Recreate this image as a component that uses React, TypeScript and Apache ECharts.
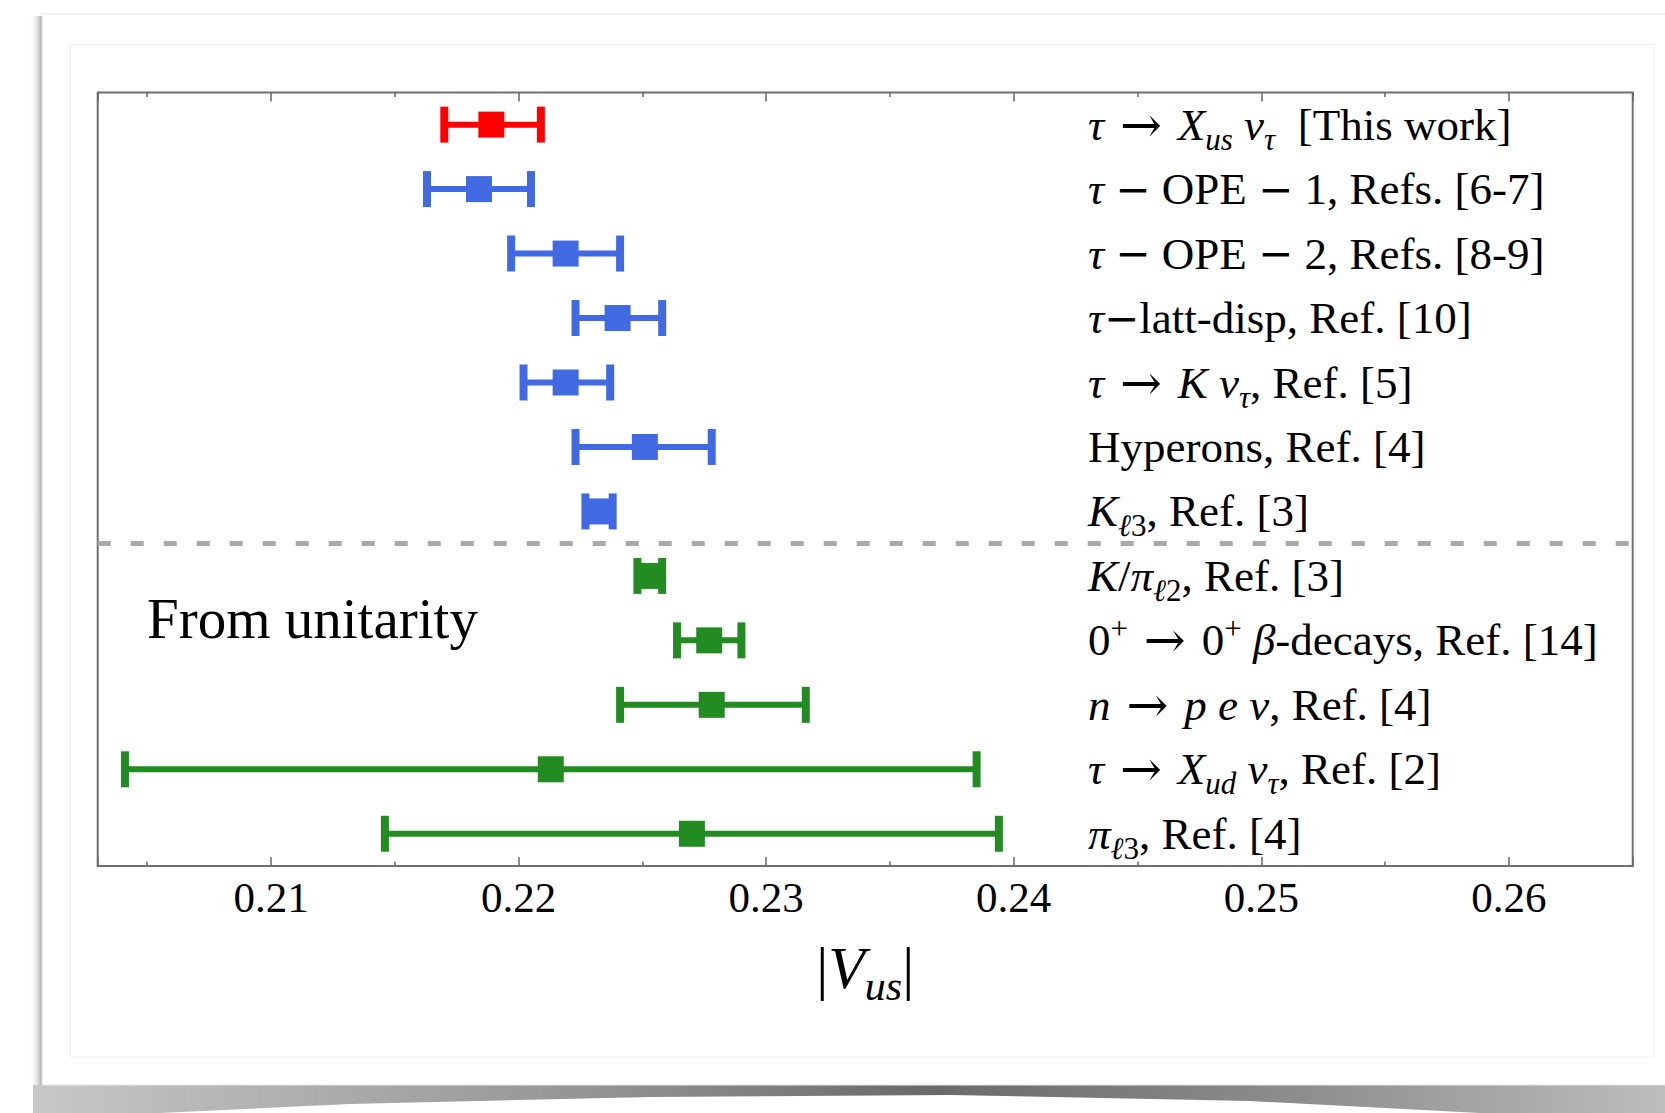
import React, { useEffect, useRef } from 'react';
import * as echarts from 'echarts';

// ---------- data ----------
const rowLabels = [
  'τ → X_us ν_τ [This work]',
  'τ − OPE − 1, Refs. [6-7]',
  'τ − OPE − 2, Refs. [8-9]',
  'τ−latt-disp, Ref. [10]',
  'τ → K ν_τ, Ref. [5]',
  'Hyperons, Ref. [4]',
  'K_ℓ3, Ref. [3]',
  'K/π_ℓ2, Ref. [3]',
  '0⁺ → 0⁺ β-decays, Ref. [14]',
  'n → p e ν, Ref. [4]',
  'τ → X_ud ν_τ, Ref. [2]',
  'π_ℓ3, Ref. [4]',
];

// same labels, written with rich-text styles
// (m = math italic, r = roman, a = operator, t = arrow, s = subscript, sr = roman subscript, p = superscript)
const rowLabelMarkup = [
  '{m|τ}{t| → }{m|X}{s|us}{m| ν}{s|τ}{r|  [This work]}',
  '{m|τ}{r| }{a|−}{r| OPE }{a|−}{r| 1, Refs. [6-7]}',
  '{m|τ}{r| }{a|−}{r| OPE }{a|−}{r| 2, Refs. [8-9]}',
  '{m|τ}{a|−}{r|latt-disp, Ref. [10]}',
  '{m|τ}{t| → }{m|K ν}{s|τ}{r|, Ref. [5]}',
  '{r|Hyperons, Ref. [4]}',
  '{m|K}{s|ℓ}{sr|3}{r|, Ref. [3]}',
  '{m|K}{r|/}{m|π}{s|ℓ}{sr|2}{r|, Ref. [3]}',
  '{r|0}{p|+}{t| → }{r|0}{p|+}{r| }{m|β}{r|-decays, Ref. [14]}',
  '{m|n}{t| → }{m|p e ν}{r|, Ref. [4]}',
  '{m|τ}{t| → }{m|X}{s|ud}{m| ν}{s|τ}{r|, Ref. [2]}',
  '{m|π}{s|ℓ}{sr|3}{r|, Ref. [4]}',
];

const centers = [0.2189, 0.2184, 0.2219, 0.2240, 0.2219, 0.2251, 0.2232, 0.2253, 0.2277, 0.2278, 0.2213, 0.2270];
const lows = [0.2170, 0.2163, 0.2197, 0.2223, 0.2202, 0.2223, 0.2227, 0.2248, 0.2264, 0.2241, 0.2041, 0.2146];
const highs = [0.2209, 0.2205, 0.2241, 0.2258, 0.2237, 0.2278, 0.2238, 0.2258, 0.2290, 0.2316, 0.2385, 0.2394];
const rowGroup = ['work', 'tau', 'tau', 'tau', 'tau', 'tau', 'tau', 'unit', 'unit', 'unit', 'unit', 'unit'];

const groups = [
  { key: 'work', name: 'This work', color: '#ff0000' },
  { key: 'tau', name: 'Other determinations', color: '#4169e1' },
  { key: 'unit', name: 'From unitarity', color: '#228b22' },
];

const xTickValues = [0.21, 0.22, 0.23, 0.24, 0.25, 0.26];
const xMin = 0.203;
const xMax = 0.265;
const groupBoundary = 7.5;
const annotation = 'From unitarity';
const axisTitleMarkup = '{r||}{m|V}{s|us}{r||}';

const FONT = '"Liberation Serif", "Times New Roman", serif';
const OPFONT = '"DejaVu Serif", "Liberation Serif", serif';

export default function App() {
  const ref = useRef<HTMLDivElement>(null);

  useEffect(() => {
    if (!ref.current) return;
    const chart = echarts.init(ref.current, null, { renderer: 'svg' });

    const labelSize = 45;
    const rich = {
      r: { fontFamily: FONT, fontSize: labelSize, color: '#000', lineHeight: 50, verticalAlign: 'middle' },
      m: { fontFamily: FONT, fontSize: labelSize, fontStyle: 'italic', color: '#000', lineHeight: 50, verticalAlign: 'middle' },
      a: { fontFamily: OPFONT, fontSize: 42, color: '#000', lineHeight: 50, verticalAlign: 'middle' },
      t: { fontFamily: OPFONT, fontSize: 50, color: '#000', lineHeight: 50, verticalAlign: 'middle' },
      s: { fontFamily: FONT, fontSize: 31, fontStyle: 'italic', color: '#000', lineHeight: 25, height: 21, verticalAlign: 'bottom' },
      sr: { fontFamily: FONT, fontSize: 31, color: '#000', lineHeight: 25, height: 21, verticalAlign: 'bottom' },
      p: { fontFamily: FONT, fontSize: 31, color: '#000', lineHeight: 21, height: 26, verticalAlign: 'top' },
    };

    const renderItem = (params: any, api: any) => {
      const row = api.value(1);
      const c = api.coord([api.value(0), row]);
      const l = api.coord([api.value(2), row]);
      const h = api.coord([api.value(3), row]);
      const color = api.visual('color');
      return {
        type: 'group',
        children: [
          { type: 'line', shape: { x1: l[0], y1: c[1], x2: h[0], y2: c[1] }, style: { stroke: color, lineWidth: 6 } },
          { type: 'rect', shape: { x: l[0] - 4, y: c[1] - 18, width: 8, height: 36 }, style: { fill: color } },
          { type: 'rect', shape: { x: h[0] - 4, y: c[1] - 18, width: 8, height: 36 }, style: { fill: color } },
          { type: 'rect', shape: { x: c[0] - 13, y: c[1] - 13, width: 26, height: 26 }, style: { fill: color } },
        ],
      };
    };

    const series: any[] = groups.map((g, gi) => ({
      type: 'custom',
      name: g.name,
      xAxisIndex: 0,
      yAxisIndex: 1,
      color: g.color,
      renderItem,
      dimensions: ['center', 'row', 'low', 'high'],
      encode: { x: [0, 2, 3], y: 1 },
      data: centers
        .map((v, i) => (rowGroup[i] === g.key ? [v, i + 1, lows[i], highs[i]] : null))
        .filter((d) => d !== null),
      markLine:
        gi === groups.length - 1
          ? {
              silent: true,
              symbol: 'none',
              label: { show: false },
              lineStyle: { color: '#a9a9a9', type: [13, 20], width: 5 },
              data: [{ yAxis: groupBoundary }],
            }
          : undefined,
      z: 3,
    }));

    const tickCommon = {
      axisLine: { show: false },
      axisTick: { show: true, inside: true, length: 9, lineStyle: { color: '#666', width: 1.5 } },
      minorTick: { show: true, splitNumber: 2, length: 4.5, lineStyle: { color: '#666', width: 1.5 } },
      splitLine: { show: false },
      minorSplitLine: { show: false },
    };

    const option: any = {
      animation: false,
      backgroundColor: '#ffffff',
      grid: {
        left: 97.7,
        top: 92.4,
        width: 1535,
        height: 773.6,
        show: true,
        borderColor: '#707070',
        borderWidth: 2,
        backgroundColor: 'transparent',
      },
      xAxis: [
        {
          type: 'value',
          position: 'bottom',
          min: xMin,
          max: xMax,
          splitNumber: 5,
          ...tickCommon,
          axisLabel: {
            show: true,
            margin: 10,
            fontFamily: FONT,
            fontSize: 43,
            color: '#000',
            showMinLabel: false,
            showMaxLabel: false,
            formatter: (v: number) => {
              const t = xTickValues.find((x) => Math.abs(x - v) < 1e-9);
              return t !== undefined ? t.toFixed(2) : '';
            },
          },
          name: axisTitleMarkup,
          nameLocation: 'middle',
          nameGap: 70,
          nameTextStyle: {
            rich: {
              r: { fontFamily: FONT, fontSize: 60, color: '#000', lineHeight: 64, verticalAlign: 'middle' },
              m: { fontFamily: FONT, fontSize: 60, fontStyle: 'italic', color: '#000', lineHeight: 64, verticalAlign: 'middle' },
              s: { fontFamily: FONT, fontSize: 42, fontStyle: 'italic', color: '#000', lineHeight: 34, height: 28, verticalAlign: 'bottom' },
            },
          },
        },
        {
          type: 'value',
          position: 'top',
          min: xMin,
          max: xMax,
          splitNumber: 5,
          ...tickCommon,
          axisLabel: { show: false },
        },
      ],
      yAxis: [
        {
          type: 'category',
          data: rowLabels,
          inverse: true,
          position: 'left',
          offset: -990.3,
          axisLine: { show: false },
          axisTick: { show: false },
          splitLine: { show: false },
          axisLabel: {
            inside: true,
            margin: 0,
            interval: 0,
            fontFamily: FONT,
            fontSize: labelSize,
            color: '#000',
            formatter: (_v: string, idx: number) => rowLabelMarkup[idx],
            rich,
          },
        },
        {
          type: 'value',
          min: 0.5,
          max: 12.5,
          inverse: true,
          position: 'right',
          show: false,
        },
      ],
      graphic: {
        elements: [
          {
            type: 'rect',
            z: -10,
            shape: { x: 30, y: 16, width: 12, height: 1069 },
            style: {
              fill: new echarts.graphic.LinearGradient(0, 0, 1, 0, [
                { offset: 0, color: 'rgba(255,255,255,0)' },
                { offset: 1, color: '#a8a8a8' },
              ]),
            },
          },
          {
            type: 'polygon',
            z: -10,
            shape: {
              points: [
                [33, 1085], [1665, 1085], [1665, 1113], [1480, 1113], [1250, 1101], [950, 1095],
                [650, 1097], [350, 1104], [160, 1113], [33, 1113],
              ],
            },
            style: {
              fill: new echarts.graphic.LinearGradient(0, 0, 1, 0, [
                { offset: 0, color: '#c8c8c8' },
                { offset: 0.1, color: '#b8b8b8' },
                { offset: 0.35, color: '#939393' },
                { offset: 0.55, color: '#6a6a6a' },
                { offset: 0.78, color: '#8e8e8e' },
                { offset: 1, color: '#bdbdbd' },
              ]),
            },
          },
          {
            type: 'rect',
            z: -9,
            shape: { x: 42, y: 14, width: 1640, height: 1071 },
            style: { fill: '#ffffff', stroke: '#e6e6e6', lineWidth: 1 },
          },
          {
            type: 'rect',
            z: -8,
            shape: { x: 70.5, y: 44.5, width: 1583.5, height: 1012.5 },
            style: { fill: 'none', stroke: '#eeeeee', lineWidth: 1 },
          },
          {
            type: 'text',
            z: 10,
            x: 147,
            y: 618,
            style: {
              text: annotation,
              fontFamily: FONT,
              fontSize: 57,
              fill: '#000',
              align: 'left',
              verticalAlign: 'middle',
            },
          },
        ],
      },
      series,
    };

    chart.setOption(option);
    return () => chart.dispose();
  }, []);

  return <div ref={ref} style={{ position: 'absolute', left: 0, top: 0, width: 1665, height: 1113 }} />;
}
